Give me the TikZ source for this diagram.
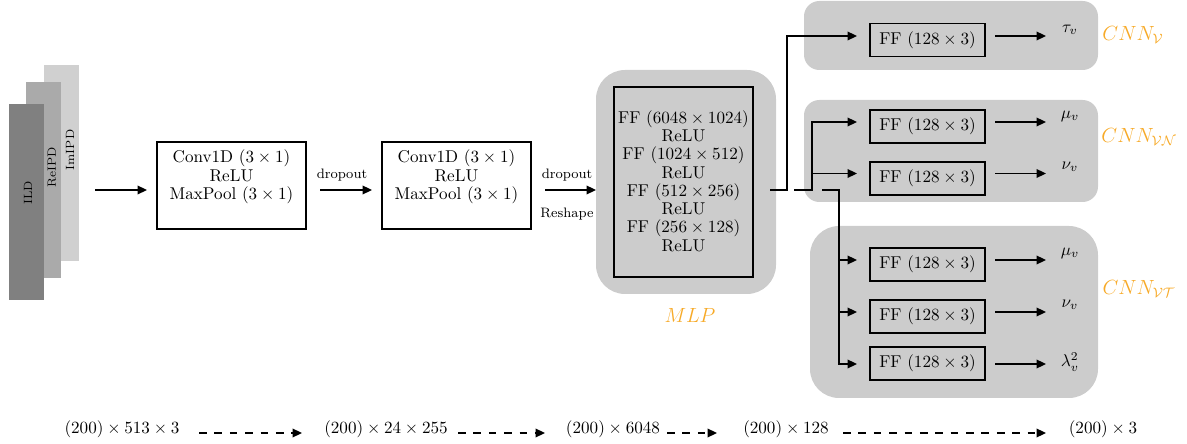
\documentclass[tikz,border=0pt]{standalone}
\usetikzlibrary{fit,arrows.meta}
\definecolor{boxgray}{RGB}{204,204,204}
\definecolor{lblorange}{RGB}{247,170,40}
\definecolor{ildgray}{RGB}{128,128,128}
\definecolor{regray}{RGB}{170,170,170}
\definecolor{imgray}{RGB}{208,208,208}
\begin{document}
\begin{tikzpicture}[x=0.585pt,y=-0.585pt,
  arr/.style={-{Triangle[length=5.5pt,width=5pt]}, line width=1pt},
  dasharr/.style={-{Triangle[length=5.5pt,width=5pt]}, line width=1pt, dash pattern=on 4.5pt off 4.5pt},
  wire/.style={line width=1pt},
  layer/.style={inner sep=0pt, outer sep=0pt},
  boxr/.style={draw, line width=1pt, inner sep=0pt, outer sep=0pt},
  panel/.style={fill=boxgray, inner sep=0pt, outer sep=0pt},
  txt/.style={align=center, font=\fontsize{10}{10.7}\selectfont, inner sep=0pt},
  small/.style={font=\footnotesize, inner sep=0pt},
  lay/.style={font=\scriptsize, rotate=90, inner sep=0pt},
  olbl/.style={text=lblorange, font=\large, inner sep=0pt},
  outl/.style={inner sep=0pt},
  ff/.style={boxr, minimum width=115*0.585pt, minimum height=33*0.585pt, font=\normalsize}
]
\useasboundingbox (0,0) rectangle (1187,444);

% input layers
\node[layer, fill=imgray, fit={(44,65)(79,261)}] (imipd) {};
\node[layer, fill=regray, fit={(26,82)(61,278)}] (reipd) {};
\node[layer, fill=ildgray, fit={(9,104)(44,300)}] (ild) {};
\node[lay] (imt) at (70,150) {ImIPD};
\node[lay] (ret) at (52,167) {ReIPD};
\node[lay] (ildt) at (28,193) {ILD};

% conv blocks
\node[boxr, fit={(157,142)(306,229)}] (c1) {};
\node[txt] (c1t) at (231.5,177) {Conv1D $(3\times 1)$\\ReLU\\MaxPool $(3\times 1)$};
\node[boxr, fit={(382,142)(531,229)}] (c2) {};
\node[txt] (c2t) at (456.5,177) {Conv1D $(3\times 1)$\\ReLU\\MaxPool $(3\times 1)$};

\coordinate (a0s) at (95,190); \coordinate (a0e) at (147,190);
\draw[arr] (a0s) -- (a0e);
\coordinate (a1s) at (320,190); \coordinate (a1e) at (372,190);
\draw[arr] (a1s) -- (a1e);
\node[small] (d1) at (342,175) {dropout};
\coordinate (a2s) at (545,190); \coordinate (a2e) at (596,190);
\draw[arr] (a2s) -- (a2e);
\node[small] (d2) at (567,175) {dropout};
\node[small] (rs) at (567,214) {Reshape};

% MLP
\node[panel, rounded corners=17pt, fit={(596,70)(776,294)}] (mlp) {};
\node[boxr, fit={(614,87)(753,277)}] (mlpin) {};
\node[txt] (mlpt) at (683.5,181) {FF $(6048\times 1024)$\\ReLU\\FF $(1024\times 512)$\\ReLU\\FF $(512\times 256)$\\ReLU\\FF $(256\times 128)$\\ReLU};
\node[olbl] (mlpl) at (690,315) {$MLP$};

% panels
\node[panel, rounded corners=9pt, fit={(804,1)(1098,70)}] (pv) {};
\node[panel, rounded corners=9pt, fit={(804,100)(1098,202)}] (pvn) {};
\node[panel, rounded corners=17pt, fit={(810,226)(1098,398)}] (pvt) {};

\node[ff] (f1) at (927.5,40) {FF $(128\times 3)$};
\node[ff] (f2) at (927.5,126.5) {FF $(128\times 3)$};
\node[ff] (f3) at (927.5,178.5) {FF $(128\times 3)$};
\node[ff] (f4) at (927.5,264.5) {FF $(128\times 3)$};
\node[ff] (f5) at (927.5,316.5) {FF $(128\times 3)$};
\node[ff] (f6) at (927.5,363.5) {FF $(128\times 3)$};

\node[olbl] (lv) at (1133,35) {$CNN_{\mathcal{V}}$};
\node[olbl] (lvn) at (1139,137) {$CNN_{\mathcal{V}\mathcal{N}}$};
\node[olbl] (lvt) at (1139,289) {$CNN_{\mathcal{V}\mathcal{T}}$};

% branch wires
\coordinate (s1) at (770,190); \coordinate (b1) at (787,190);
\coordinate (t1) at (857,36);
\draw[arr] (s1) -- (b1) |- (t1);
\coordinate (s2) at (794,190); \coordinate (b2) at (812,190);
\coordinate (t2) at (857,122); \coordinate (t3) at (857,173.5);
\draw[arr] (s2) -- (b2) |- (t2);
\draw[arr] (b2 |- t3) -- (t3);
\coordinate (s3) at (822,190); \coordinate (b3) at (839,190);
\coordinate (t4) at (857,260); \coordinate (t5) at (857,312); \coordinate (t6) at (857,364);
\draw[arr] (s3) -- (b3) |- (t6);
\draw[arr] (b3 |- t4) -- (t4);
\draw[arr] (b3 |- t5) -- (t5);

% outputs
\foreach \i/\y in {1/36,2/122,3/173.5,4/260,5/312,6/364}{
  \coordinate (o\i s) at (995,\y); \coordinate (o\i e) at (1046,\y);
  \draw[arr] (o\i s) -- (o\i e);
}
\node[outl] (y1) at (1070,30) {$\tau_v$};
\node[outl] (y2) at (1070,116) {$\mu_v$};
\node[outl] (y3) at (1070,167) {$\nu_v$};
\node[outl] (y4) at (1070,253) {$\mu_v$};
\node[outl] (y5) at (1070,305) {$\nu_v$};
\node[outl] (y6) at (1070,362) {$\lambda_v^2$};

% bottom shapes
\node[inner sep=0pt] (sh1) at (122,429) {$(200)\times 513\times 3$};
\node[inner sep=0pt] (sh2) at (386,429) {$(200)\times 24\times 255$};
\node[inner sep=0pt] (sh3) at (613,429) {$(200)\times 6048$};
\node[inner sep=0pt] (sh4) at (786,429) {$(200)\times 128$};
\node[inner sep=0pt] (sh5) at (1103,429) {$(200)\times 3$};
\coordinate (e1s) at (199,433); \coordinate (e1e) at (302,433);
\coordinate (e2s) at (458,433); \coordinate (e2e) at (545,433);
\coordinate (e3s) at (667,433); \coordinate (e3e) at (717,433);
\coordinate (e4s) at (843,433); \coordinate (e4e) at (1046,433);
\draw[dasharr] (e1s) -- (e1e);
\draw[dasharr] (e2s) -- (e2e);
\draw[dasharr] (e3s) -- (e3e);
\draw[dasharr] (e4s) -- (e4e);
\end{tikzpicture}
\end{document}
